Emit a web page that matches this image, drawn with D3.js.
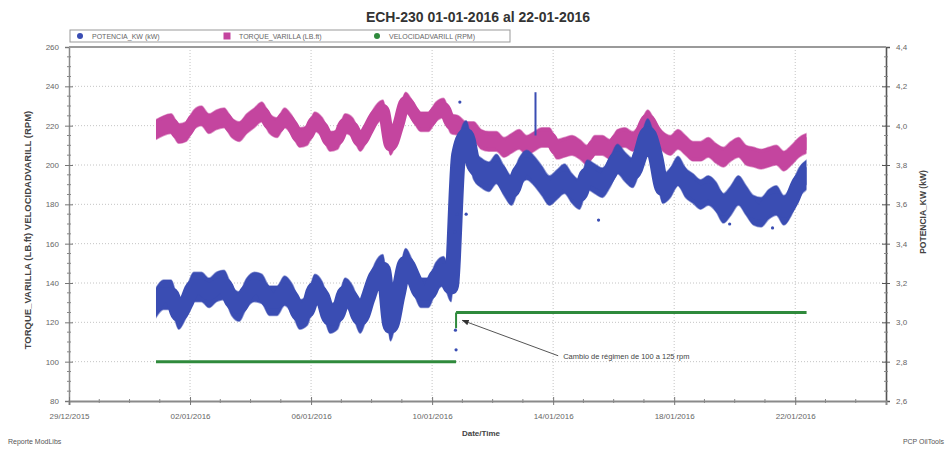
<!DOCTYPE html>
<html>
<head>
<meta charset="utf-8">
<script src="https://cdn.jsdelivr.net/npm/d3@7"></script>
<style>
  body { margin: 0; background: #fff; }
  svg { display: block; font-family: "Liberation Sans", Arial, sans-serif; }
</style>
</head>
<body>
<svg id="chart" width="949" height="451"></svg>
<script>
// ---- data -------------------------------------------------------------
const chartTitle = "ECH-230 01-01-2016 al 22-01-2016";
const seriesNames = ["POTENCIA_KW (kW)", "TORQUE_VARILLA (LB.ft)", "VELOCIDADVARILL (RPM)"];

// readings every 6 hours starting 31/12/2015 21:00
const seriesStart = new Date(2015, 11, 31, 21);
const stepHours = 6;

// rod torque (LB.ft), left axis
const torque = [
  218,220,221,216,217,223,225,221,223,224,
  219,217,221,224,227,221,219,224,220,214,
  215,222,219,212,213,221,219,212,218,225,
  228,210,220,232,227,222,222,227,229,221,
  220,217,217,213,212,212,209,211,213,210,
  212,214,214,208,209,210,208,205,210,210,
  208,213,214,212,216,223,217,212,210,213,
  210,207,207,209,206,204,207,209,205,204,
  203,204,205,202,205,209,211
];
const torqueSpread = 5;

// motor power (kW), right axis
const potencia = [
  3.10,3.14,3.14,3.04,3.10,3.18,3.18,3.15,3.18,3.19,
  3.11,3.08,3.15,3.18,3.17,3.11,3.11,3.16,3.12,3.04,
  3.06,3.17,3.13,3.02,3.04,3.15,3.11,3.02,3.12,3.23,
  3.27,2.98,3.14,3.30,3.23,3.15,3.15,3.23,3.26,3.18,
  3.85,3.95,3.80,3.76,3.74,3.78,3.72,3.67,3.76,3.80,
  3.77,3.72,3.67,3.70,3.73,3.68,3.65,3.75,3.73,3.71,
  3.76,3.83,3.79,3.76,3.85,3.96,3.85,3.68,3.71,3.77,
  3.71,3.68,3.65,3.67,3.64,3.58,3.62,3.67,3.62,3.57,
  3.56,3.60,3.62,3.57,3.62,3.71,3.75
];
const potenciaSpread = 0.075;

// isolated power readings outside the main band
const potenciaSueltaTime = [
  new Date(2016,0,10,18), new Date(2016,0,10,18,30), new Date(2016,0,10,19),
  new Date(2016,0,10,20), new Date(2016,0,10,22), new Date(2016,0,11,3),
  new Date(2016,0,15,12), new Date(2016,0,19,20), new Date(2016,0,21,6)
];
const potenciaSueltaKw = [3.46, 2.96, 2.86, 3.55, 4.12, 3.55, 3.52, 3.50, 3.48];

// short power surge on 13/01
const picoTime = new Date(2016, 0, 13, 10);
const picoKw = [3.95, 4.17];

// rod speed (RPM), left axis: regime change from 100 to 125 rpm
const velocidadStart = [new Date(2015, 11, 31, 21), new Date(2016, 0, 10, 19)];
const velocidadEnd   = [new Date(2016, 0, 10, 19), new Date(2016, 0, 22, 9)];
const velocidadRpm   = [100, 125];

const annotationText = "Cambio de régimen de 100 a 125 rpm";
const annotationFrom = { time: new Date(2016, 0, 14, 4), value: 103 };
const annotationTo   = { time: new Date(2016, 0, 11, 0), value: 121 };

const xTickDates = d3.range(0, 25, 4).map(d => d3.timeDay.offset(new Date(2015, 11, 29), d));
const leftTicks = d3.range(80, 261, 20);
const rightTicks = d3.range(2.6, 4.401, 0.2);

// ---- layout -----------------------------------------------------------
const svg = d3.select("#chart");
const L = 69, R = 886, T = 47, B = 401;

const x = d3.scaleTime().domain([new Date(2015, 11, 29), new Date(2016, 0, 25)]).range([L, R]);
const yL = d3.scaleLinear().domain([80, 260]).range([B, T]);
const yR = d3.scaleLinear().domain([2.6, 4.4]).range([B, T]);

const timeAt = i => d3.timeHour.offset(seriesStart, stepHours * i);

const colBlue = "#3a4db3", colMag = "#c4459f", colGreen = "#2f8a3c";

const defs = svg.append("defs");
// bands are cut at the first and last reading
defs.append("clipPath").attr("id", "span").append("rect")
  .attr("x", x(timeAt(0))).attr("width", x(timeAt(torque.length - 1)) - x(timeAt(0)))
  .attr("y", T).attr("height", B - T);

// title
svg.append("text").attr("x", 478).attr("y", 22).attr("text-anchor", "middle")
  .attr("font-size", 14).attr("font-weight", "bold").attr("fill", "#333").text(chartTitle);

// grid
const grid = svg.append("g").attr("stroke", "#c4c4c4").attr("stroke-dasharray", "1,2");
grid.selectAll("line.h").data(leftTicks.slice(1, -1)).join("line")
  .attr("x1", L).attr("x2", R).attr("y1", d => yL(d)).attr("y2", d => yL(d));
grid.selectAll("line.v").data(xTickDates.slice(1)).join("line")
  .attr("y1", T).attr("y2", B).attr("x1", d => x(d)).attr("x2", d => x(d));

// a band = area of +/- spread around the readings plus a wide centre stroke,
// so steep stretches keep their thickness
function band(values, yScale, spread, color, strokeW) {
  const g = svg.append("g").attr("clip-path", "url(#span)");
  const area = d3.area()
    .x((d, i) => x(timeAt(i)))
    .y0(d => yScale(d - spread))
    .y1(d => yScale(d + spread))
    .curve(d3.curveMonotoneX);
  const line = d3.line()
    .x((d, i) => x(timeAt(i)))
    .y(d => yScale(d))
    .curve(d3.curveMonotoneX);
  g.append("path").datum(values).attr("d", area)
    .attr("fill", color).attr("stroke", color).attr("stroke-width", 1.5).attr("stroke-opacity", 0.55);
  g.append("path").datum(values).attr("d", line)
    .attr("fill", "none").attr("stroke", color).attr("stroke-width", strokeW)
    .attr("stroke-linejoin", "round").attr("stroke-linecap", "round");
  return g;
}

band(torque, yL, torqueSpread, colMag, 12);
band(potencia, yR, potenciaSpread, colBlue, 15);

svg.append("g").selectAll("circle").data(potenciaSueltaKw).join("circle")
  .attr("cx", (d, i) => x(potenciaSueltaTime[i]))
  .attr("cy", d => yR(d)).attr("r", 1.6).attr("fill", colBlue);
svg.append("line").attr("x1", x(picoTime)).attr("x2", x(picoTime))
  .attr("y1", yR(picoKw[0])).attr("y2", yR(picoKw[1]))
  .attr("stroke", colBlue).attr("stroke-width", 2);

// speed steps
svg.append("g").selectAll("line").data(velocidadRpm).join("line")
  .attr("x1", (d, i) => x(velocidadStart[i])).attr("x2", (d, i) => x(velocidadEnd[i]))
  .attr("y1", d => yL(d)).attr("y2", d => yL(d))
  .attr("stroke", colGreen).attr("stroke-width", 3);
svg.append("line")
  .attr("x1", x(velocidadStart[1])).attr("x2", x(velocidadStart[1]))
  .attr("y1", yL(velocidadRpm[1])).attr("y2", yL(velocidadRpm[1] - 8))
  .attr("stroke", colGreen).attr("stroke-width", 2);

// axes
const tickText = sel => sel.selectAll("text").attr("fill", "#666").attr("font-size", 8);

const gL = svg.append("g").attr("transform", `translate(${L},0)`)
  .call(d3.axisLeft(yL).tickValues(leftTicks).tickSize(4).tickPadding(6).tickFormat(d3.format("d")));
gL.select(".domain").attr("stroke", "#8a8a8a").attr("stroke-width", 1.5);
gL.selectAll(".tick line").attr("stroke", "#777").attr("x2", 4).attr("x1", -4);
tickText(gL);

const gR = svg.append("g").attr("transform", `translate(${R},0)`)
  .call(d3.axisRight(yR).tickValues(rightTicks).tickSize(4).tickPadding(6)
    .tickFormat(d => d3.format(".1f")(d).replace(".", ",")));
gR.select(".domain").attr("stroke", "#555").attr("stroke-width", 1.6);
gR.selectAll(".tick line").attr("stroke", "#555").attr("x1", -4).attr("x2", 4);
tickText(gR);

const gB = svg.append("g").attr("transform", `translate(0,${B})`)
  .call(d3.axisBottom(x).tickValues(xTickDates).tickSize(4).tickPadding(8)
    .tickFormat(d3.timeFormat("%d/%m/%Y")));
gB.select(".domain").attr("stroke", "#8a8a8a").attr("stroke-width", 2);
gB.selectAll(".tick line").attr("stroke", "#777").attr("y1", -4).attr("y2", 4);
tickText(gB);

// top frame line
svg.append("line").attr("x1", L).attr("x2", R).attr("y1", yL(260)).attr("y2", yL(260))
  .attr("stroke", "#9a9a9a").attr("stroke-width", 2);

// minor ticks
const minor = svg.append("g").attr("stroke", "#888").attr("stroke-width", 1);
minor.selectAll("line.ml").data(d3.range(85, 260, 5).filter(v => v % 20 !== 0)).join("line")
  .attr("x1", L - 2).attr("x2", L + 2).attr("y1", d => yL(d)).attr("y2", d => yL(d));
minor.selectAll("line.mr").data(d3.range(2.65, 4.4, 0.05).filter((v, i) => (i + 1) % 4 !== 0)).join("line")
  .attr("x1", R - 2).attr("x2", R + 2).attr("y1", d => yR(d)).attr("y2", d => yR(d));
minor.selectAll("line.mb").data(d3.timeDay.range(new Date(2015, 11, 30), new Date(2016, 0, 25))
    .filter(d => !xTickDates.some(t => +t === +d))).join("line")
  .attr("x1", d => x(d)).attr("x2", d => x(d)).attr("y1", B - 2).attr("y2", B + 2);

// axis titles
svg.append("text").attr("transform", `translate(31,230) rotate(-90)`)
  .attr("text-anchor", "middle").attr("font-size", 9.5).attr("font-weight", "bold")
  .attr("fill", "#444").text(seriesNames[1] + " " + seriesNames[2]);
svg.append("text").attr("transform", `translate(926,212) rotate(-90)`)
  .attr("text-anchor", "middle").attr("font-size", 8.5).attr("font-weight", "bold")
  .attr("fill", "#444").text(seriesNames[0]);
svg.append("text").attr("x", 481).attr("y", 436).attr("text-anchor", "middle")
  .attr("font-size", 8).attr("font-weight", "bold").attr("fill", "#444").text("Date/Time");

// footers
svg.append("text").attr("x", 8).attr("y", 444).attr("font-size", 7).attr("fill", "#555").text("Reporte ModLibs");
svg.append("text").attr("x", 944).attr("y", 444).attr("text-anchor", "end").attr("font-size", 7)
  .attr("fill", "#555").text("PCP OilTools");

// annotation
defs.append("marker").attr("id", "arr").attr("viewBox", "0 0 10 10")
  .attr("refX", 9).attr("refY", 5).attr("markerWidth", 7).attr("markerHeight", 7)
  .attr("orient", "auto").append("path").attr("d", "M0,1 L10,5 L0,9 z").attr("fill", "#333");
svg.append("line")
  .attr("x1", x(annotationFrom.time)).attr("y1", yL(annotationFrom.value))
  .attr("x2", x(annotationTo.time)).attr("y2", yL(annotationTo.value))
  .attr("stroke", "#555").attr("stroke-width", 1).attr("marker-end", "url(#arr)");
svg.append("text").attr("x", x(annotationFrom.time) + 5).attr("y", yL(annotationFrom.value) + 3)
  .attr("font-size", 7.5).attr("fill", "#444").text(annotationText);

// legend
const lg = svg.append("g");
lg.append("rect").attr("x", 70).attr("y", 30).attr("width", 440).attr("height", 12)
  .attr("fill", "#fff").attr("stroke", "#999").attr("stroke-width", 1);
const legendX = [80, 227, 377];
const legendCol = [colBlue, colMag, colGreen];
seriesNames.forEach((name, i) => {
  if (i === 1) {
    lg.append("rect").attr("x", legendX[i] - 3.5).attr("y", 32.5).attr("width", 7).attr("height", 7).attr("fill", legendCol[i]);
  } else {
    lg.append("circle").attr("cx", legendX[i]).attr("cy", 36).attr("r", 3).attr("fill", legendCol[i]);
  }
  lg.append("text").attr("x", legendX[i] + 12).attr("y", 38.5).attr("font-size", 7)
    .attr("fill", "#666").text(name);
});
</script>
</body>
</html>
